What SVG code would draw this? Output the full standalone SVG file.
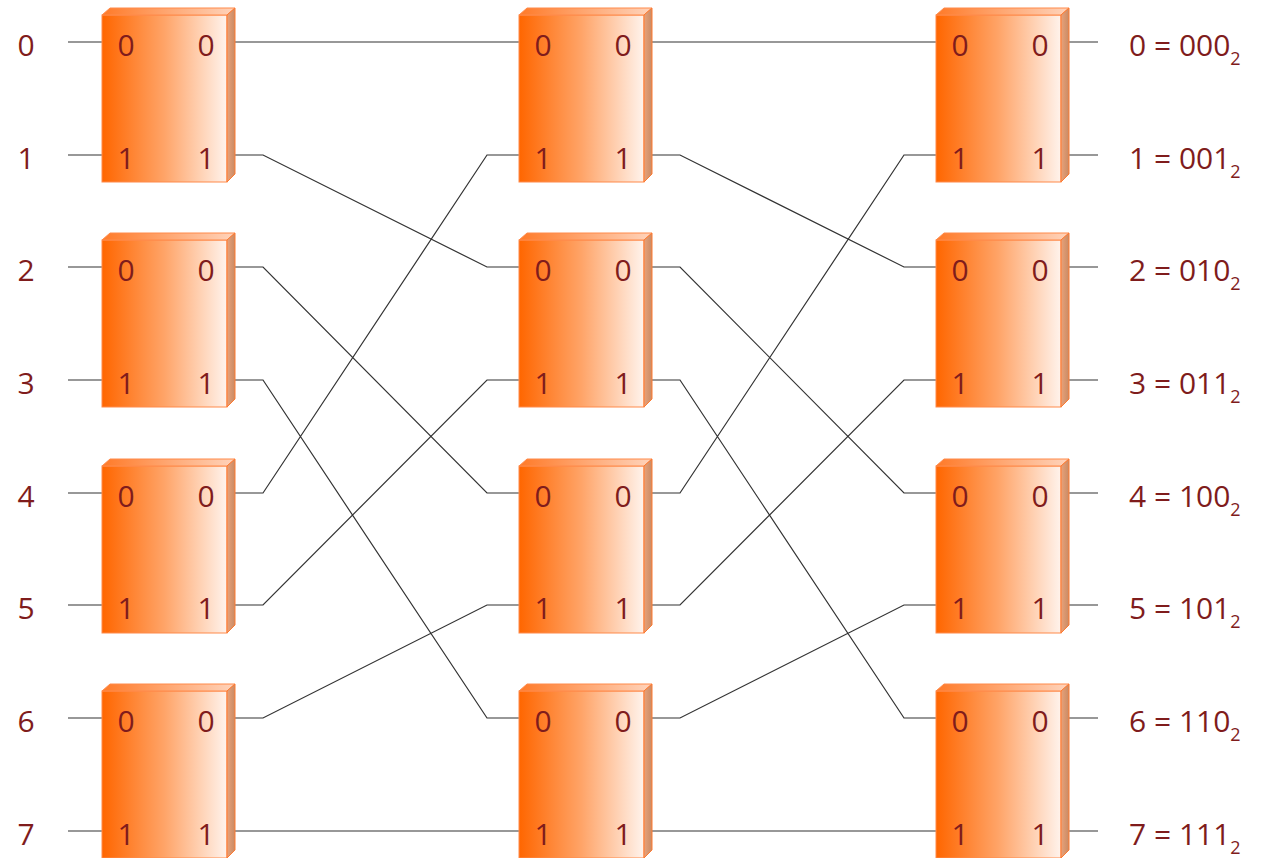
<svg xmlns="http://www.w3.org/2000/svg" width="1263" height="858" viewBox="0 0 1263 858">
<defs>
<linearGradient id="front" x1="0" y1="0" x2="1" y2="0">
<stop offset="0" stop-color="#ff6600"/>
<stop offset="0.5" stop-color="#ffa468"/>
<stop offset="1" stop-color="#fff3ec"/>
</linearGradient>
<linearGradient id="top" x1="0" y1="0" x2="1" y2="0">
<stop offset="0" stop-color="#ff7a28"/>
<stop offset="1" stop-color="#ffd4bc"/>
</linearGradient>
<linearGradient id="side" x1="0" y1="0" x2="1" y2="0">
<stop offset="0" stop-color="#e8a27a"/>
<stop offset="1" stop-color="#c98a64"/>
</linearGradient>
<g id="box">
<rect x="0" y="0" width="125" height="167" fill="url(#front)" stroke="#ff8a4a" stroke-width="1"/>
<polygon points="0,0 8,-7 133,-7 125,0" fill="url(#top)" stroke="#ff8a4a" stroke-width="1"/>
<polygon points="125,0 133,-7 133,159 125,167" fill="url(#side)" stroke="#ff7a30" stroke-width="1"/>
</g>
</defs>
<style>
text{font-family:"Open Sans","Noto Sans","Liberation Sans",sans-serif;font-size:30px;fill:#7f1c1c}
.m{text-anchor:middle}
.w{fill:none;stroke:#333;stroke-width:1.2}
</style>
<g id="connectors">
<path class="w" d="M68,42H102M68,155H102M68,267H102M68,380H102M68,493H102M68,605H102M68,718H102M68,831H102"/>
<path class="w" d="M1069,42H1098M1069,155H1098M1069,267H1098M1069,380H1098M1069,493H1098M1069,605H1098M1069,718H1098M1069,831H1098"/>
<path class="w" d="M235,42H519M235,831H519M652,42H936M652,831H936"/>
<path class="w" d="M235,155H263L487,267H519M235,267H263L487,493H519M235,380H263L487,718H519M235,493H263L487,155H519M235,605H263L487,380H519M235,718H263L487,605H519"/>
<path class="w" d="M652,155H680L904,267H936M652,267H680L904,493H936M652,380H680L904,718H936M652,493H680L904,155H936M652,605H680L904,380H936M652,718H680L904,605H936"/>
</g>
<g id="inputs">
<text class="m" x="26" y="56">0</text>
<text class="m" x="26" y="169">1</text>
<text class="m" x="26" y="281">2</text>
<text class="m" x="26" y="394">3</text>
<text class="m" x="26" y="507">4</text>
<text class="m" x="26" y="619">5</text>
<text class="m" x="26" y="732">6</text>
<text class="m" x="26" y="845">7</text>
</g>
<g id="outputs">
<text x="1129" y="56">0 = 000<tspan font-size="18" dy="9">2</tspan></text>
<text x="1129" y="169">1 = 001<tspan font-size="18" dy="9">2</tspan></text>
<text x="1129" y="281">2 = 010<tspan font-size="18" dy="9">2</tspan></text>
<text x="1129" y="394">3 = 011<tspan font-size="18" dy="9">2</tspan></text>
<text x="1129" y="507">4 = 100<tspan font-size="18" dy="9">2</tspan></text>
<text x="1129" y="619">5 = 101<tspan font-size="18" dy="9">2</tspan></text>
<text x="1129" y="732">6 = 110<tspan font-size="18" dy="9">2</tspan></text>
<text x="1129" y="845">7 = 111<tspan font-size="18" dy="9">2</tspan></text>
</g>
<g id="s1b0" transform="translate(102,15)"><use href="#box"/><text class="m" x="24" y="41">0</text><text class="m" x="104" y="41">0</text><text class="m" x="24" y="154">1</text><text class="m" x="104" y="154">1</text></g>
<g id="s1b1" transform="translate(102,240)"><use href="#box"/><text class="m" x="24" y="41">0</text><text class="m" x="104" y="41">0</text><text class="m" x="24" y="154">1</text><text class="m" x="104" y="154">1</text></g>
<g id="s1b2" transform="translate(102,466)"><use href="#box"/><text class="m" x="24" y="41">0</text><text class="m" x="104" y="41">0</text><text class="m" x="24" y="153">1</text><text class="m" x="104" y="153">1</text></g>
<g id="s1b3" transform="translate(102,691)"><use href="#box"/><text class="m" x="24" y="41">0</text><text class="m" x="104" y="41">0</text><text class="m" x="24" y="154">1</text><text class="m" x="104" y="154">1</text></g>
<g id="s2b0" transform="translate(519,15)"><use href="#box"/><text class="m" x="24" y="41">0</text><text class="m" x="104" y="41">0</text><text class="m" x="24" y="154">1</text><text class="m" x="104" y="154">1</text></g>
<g id="s2b1" transform="translate(519,240)"><use href="#box"/><text class="m" x="24" y="41">0</text><text class="m" x="104" y="41">0</text><text class="m" x="24" y="154">1</text><text class="m" x="104" y="154">1</text></g>
<g id="s2b2" transform="translate(519,466)"><use href="#box"/><text class="m" x="24" y="41">0</text><text class="m" x="104" y="41">0</text><text class="m" x="24" y="153">1</text><text class="m" x="104" y="153">1</text></g>
<g id="s2b3" transform="translate(519,691)"><use href="#box"/><text class="m" x="24" y="41">0</text><text class="m" x="104" y="41">0</text><text class="m" x="24" y="154">1</text><text class="m" x="104" y="154">1</text></g>
<g id="s3b0" transform="translate(936,15)"><use href="#box"/><text class="m" x="24" y="41">0</text><text class="m" x="104" y="41">0</text><text class="m" x="24" y="154">1</text><text class="m" x="104" y="154">1</text></g>
<g id="s3b1" transform="translate(936,240)"><use href="#box"/><text class="m" x="24" y="41">0</text><text class="m" x="104" y="41">0</text><text class="m" x="24" y="154">1</text><text class="m" x="104" y="154">1</text></g>
<g id="s3b2" transform="translate(936,466)"><use href="#box"/><text class="m" x="24" y="41">0</text><text class="m" x="104" y="41">0</text><text class="m" x="24" y="153">1</text><text class="m" x="104" y="153">1</text></g>
<g id="s3b3" transform="translate(936,691)"><use href="#box"/><text class="m" x="24" y="41">0</text><text class="m" x="104" y="41">0</text><text class="m" x="24" y="154">1</text><text class="m" x="104" y="154">1</text></g>
</svg>
